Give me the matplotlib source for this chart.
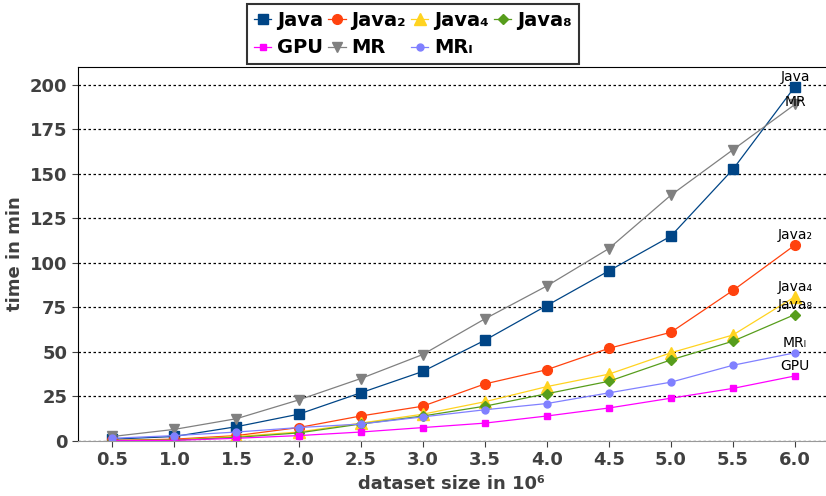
import matplotlib
matplotlib.use("Agg")
import matplotlib.pyplot as plt

# Daten
sizes = [0.5, 1.0, 1.5, 2.0, 2.5, 3.0, 3.5, 4.0, 4.5, 5.0, 5.5, 6.0]
java = [1.0, 2.5, 8.0, 15.0, 27.0, 39.0, 56.5, 76.0, 95.5, 115.0, 152.5, 199.0]
java2 = [0.3, 1.0, 3.0, 7.5, 14.0, 19.5, 32.0, 40.0, 52.0, 61.0, 84.5, 110.0]
java4 = [0.2, 0.5, 2.5, 5.0, 10.0, 15.0, 22.0, 30.5, 37.5, 49.5, 59.5, 81.0]
java8 = [0.2, 0.5, 2.0, 4.5, 9.5, 14.0, 19.5, 26.5, 33.5, 45.5, 56.0, 71.0]
gpu = [0.1, 0.3, 1.5, 3.0, 5.0, 7.5, 10.0, 14.0, 18.5, 24.0, 29.5, 36.5]
mr = [2.5, 6.5, 12.5, 23.0, 35.0, 48.5, 68.5, 87.0, 108.0, 138.0, 163.5, 189.0]
mrl = [1.5, 3.0, 5.0, 7.5, 9.5, 13.5, 17.5, 21.0, 27.0, 33.0, 42.5, 49.5]

names = ["Java", "Java₂", "Java₄", "Java₈", "GPU", "MR", "MRₗ"]
werte = [java, java2, java4, java8, gpu, mr, mrl]
farben = ["#004586", "#ff420e", "#ffd320", "#579d1c", "#ff00ff", "#808080", "#8080ff"]
marker = ["s", "o", "^", "D", "s", "v", "o"]
msize = [7, 7, 8, 5, 5, 7, 5]
label_off = [7, 7, 7, 7, 7, 1.5, 7]

fig = plt.figure(figsize=(8.26, 4.96), dpi=100)
ax = fig.add_axes([0.094, 0.111, 0.906, 0.754])

linien = []
for n, y, c, m, s in zip(names, werte, farben, marker, msize):
    l, = ax.plot(sizes, y, color=c, marker=m, markersize=s, linewidth=0.9, label=n)
    linien.append(l)

# Beschriftung am letzten Punkt
for n, y, off in zip(names, werte, label_off):
    ax.annotate(n, (sizes[-1], y[-1]), xytext=(0, off), textcoords="offset points",
                ha="center", va="center", fontsize=10)

ax.set_xlim(0.22, 6.25)
ax.set_ylim(0, 210)
ax.set_xticks(sizes)
ax.set_xticklabels([f"{v:.1f}" for v in sizes])
ax.set_yticks([0, 25, 50, 75, 100, 125, 150, 175, 200])
ax.yaxis.grid(True, linestyle=(0, (2, 2)), color="black", linewidth=0.9)
ax.set_axisbelow(True)
ax.spines["right"].set_visible(False)
ax.spines["bottom"].set_color("#999999")
ax.spines["bottom"].set_linewidth(0.8)

for lbl in ax.get_xticklabels() + ax.get_yticklabels():
    lbl.set_fontweight("bold")
    lbl.set_fontsize(13)
    lbl.set_color("#404040")
ax.tick_params(axis="both", length=4, color="#404040")

ax.set_xlabel("dataset size in 10⁶", fontsize=13, fontweight="bold", color="#404040")
ax.set_ylabel("time in min", fontsize=13, fontweight="bold", color="#404040")

# Legende zeilenweise: Reihenfolge fuer spaltenweises Fuellen umsortieren
ordnung = [0, 4, 1, 5, 2, 6, 3]
leg = ax.legend([linien[i] for i in ordnung], [names[i] for i in ordnung],
                loc="upper center", bbox_to_anchor=(0.448, 1.195), ncol=4,
                prop={"weight": "bold", "size": 14}, frameon=True, fancybox=False,
                edgecolor="black", handlelength=0.9, handletextpad=0.3,
                columnspacing=0.25, borderpad=0.35, labelspacing=0.45)
leg.get_frame().set_linewidth(1.5)

fig.savefig("out.png", dpi=100)
